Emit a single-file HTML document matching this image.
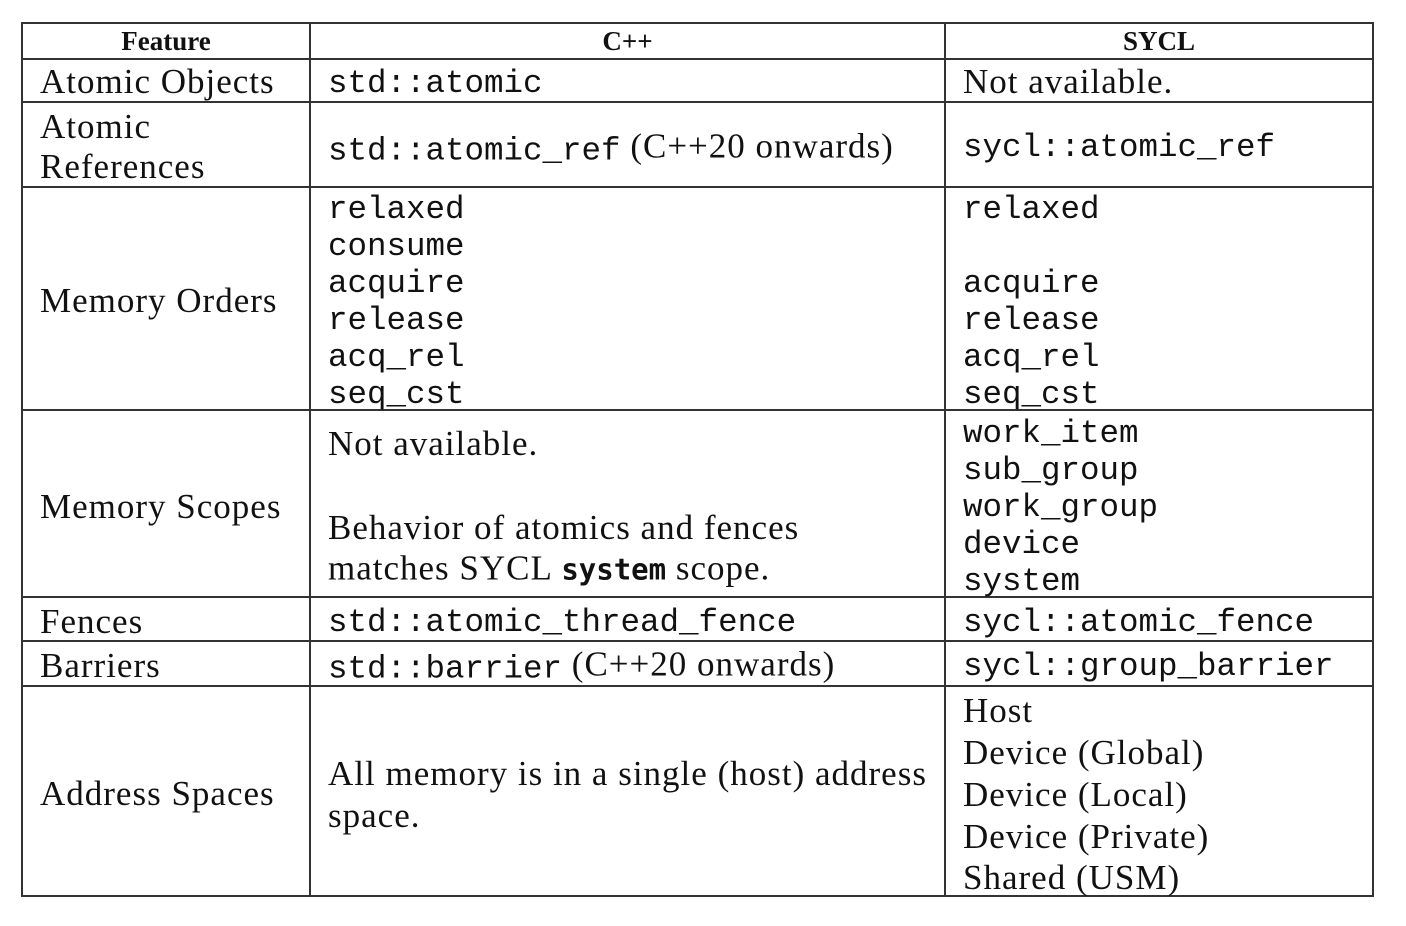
<!DOCTYPE html>
<html><head><meta charset="utf-8"><style>
body{margin:0;width:1406px;height:926px;background:#fff;position:relative;overflow:hidden;color:#111}
.h{position:absolute;background:#333;height:2px}
.v{position:absolute;background:#333;width:2px}
.t{position:absolute;font-family:"Liberation Serif",serif;font-size:35px;letter-spacing:1px;line-height:40px;white-space:nowrap;transform:translateY(-50%)}
.m{font-family:"Liberation Mono",monospace;font-size:32.5px;letter-spacing:0;margin-top:3px}
span.m,b.m{margin-top:0;position:relative;top:2px}
.b{font-weight:bold;font-size:27px;letter-spacing:0;text-align:center}
</style></head><body>
<div class="h" style="left:22px;width:1352px;top:22px"></div>
<div class="h" style="left:22px;width:1352px;top:58px"></div>
<div class="h" style="left:22px;width:1352px;top:101px"></div>
<div class="h" style="left:22px;width:1352px;top:186px"></div>
<div class="h" style="left:22px;width:1352px;top:409px"></div>
<div class="h" style="left:22px;width:1352px;top:596px"></div>
<div class="h" style="left:22px;width:1352px;top:640px"></div>
<div class="h" style="left:22px;width:1352px;top:685px"></div>
<div class="h" style="left:22px;width:1352px;top:895px"></div>
<div class="v" style="left:21px;top:22px;height:875px"></div>
<div class="v" style="left:309px;top:22px;height:875px"></div>
<div class="v" style="left:944px;top:22px;height:875px"></div>
<div class="v" style="left:1372px;top:22px;height:875px"></div>

<div class="t b" style="left:22px;width:288px;top:41px">Feature</div>
<div class="t b" style="left:310px;width:635px;top:41px">C++</div>
<div class="t b" style="left:945px;width:428px;top:41px">SYCL</div>

<div class="t" style="left:40px;top:82px">Atomic Objects</div>
<div class="t m" style="left:328px;top:81px">std::atomic</div>
<div class="t" style="left:963px;top:82px">Not available.</div>

<div class="t" style="left:40px;top:127px">Atomic</div>
<div class="t" style="left:40px;top:167px">References</div>
<div class="t" style="left:328px;top:148px"><span class="m">std::atomic_ref</span> (C++20 onwards)</div>
<div class="t m" style="left:963px;top:145px">sycl::atomic_ref</div>

<div class="t" style="left:40px;top:301px">Memory Orders</div>
<div class="t m" style="left:328px;top:207px">relaxed</div>
<div class="t m" style="left:328px;top:244px">consume</div>
<div class="t m" style="left:328px;top:281px">acquire</div>
<div class="t m" style="left:328px;top:318px">release</div>
<div class="t m" style="left:328px;top:355px">acq_rel</div>
<div class="t m" style="left:328px;top:392px">seq_cst</div>
<div class="t m" style="left:963px;top:207px">relaxed</div>
<div class="t m" style="left:963px;top:281px">acquire</div>
<div class="t m" style="left:963px;top:318px">release</div>
<div class="t m" style="left:963px;top:355px">acq_rel</div>
<div class="t m" style="left:963px;top:392px">seq_cst</div>

<div class="t" style="left:40px;top:507px">Memory Scopes</div>
<div class="t" style="left:328px;top:444px">Not available.</div>
<div class="t" style="left:328px;top:528px">Behavior of atomics and fences</div>
<div class="t" style="left:328px;top:569px">matches SYCL <b style="font-family:'DejaVu Sans Mono',monospace;font-size:29px;letter-spacing:0">system</b> scope.</div>
<div class="t m" style="left:963px;top:431px">work_item</div>
<div class="t m" style="left:963px;top:468px">sub_group</div>
<div class="t m" style="left:963px;top:505px">work_group</div>
<div class="t m" style="left:963px;top:542px">device</div>
<div class="t m" style="left:963px;top:579px">system</div>

<div class="t" style="left:40px;top:622px">Fences</div>
<div class="t m" style="left:328px;top:620px">std::atomic_thread_fence</div>
<div class="t m" style="left:963px;top:620px">sycl::atomic_fence</div>

<div class="t" style="left:40px;top:666px">Barriers</div>
<div class="t" style="left:328px;top:666px"><span class="m">std::barrier</span> (C++20 onwards)</div>
<div class="t m" style="left:963px;top:664px">sycl::group_barrier</div>

<div class="t" style="left:40px;top:794px">Address Spaces</div>
<div class="t" style="left:328px;top:774px">All memory is in a single (host) address</div>
<div class="t" style="left:328px;top:816px">space.</div>
<div class="t" style="left:963px;top:711px">Host</div>
<div class="t" style="left:963px;top:753px">Device (Global)</div>
<div class="t" style="left:963px;top:795px">Device (Local)</div>
<div class="t" style="left:963px;top:837px">Device (Private)</div>
<div class="t" style="left:963px;top:878px">Shared (USM)</div>
</body></html>
